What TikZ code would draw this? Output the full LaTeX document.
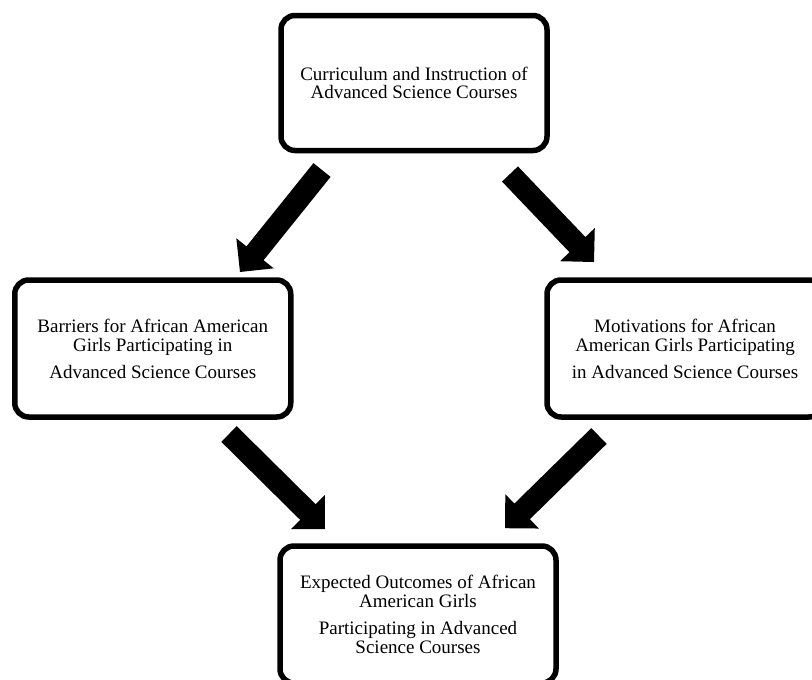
\documentclass[tikz,border=0pt]{standalone}
\usepackage{fontspec}
\setmainfont{Liberation Serif}
\usetikzlibrary{calc}
\tikzset{
  box/.style={draw=black, line width=5.5pt, rounded corners=14pt, fill=white,
    align=center, inner sep=0pt, minimum width=276pt, minimum height=137pt,
    font=\fontsize{19}{19}\selectfont},
}
\newcommand{\blockarrow}[2]{%
  \coordinate (bah) at ($(#2)!24pt!(#1)$);
  \fill[black] ($(#1)!11pt!90:(#2)$) -- ($(bah)!11pt!90:(#2)$) -- ($(bah)!24pt!90:(#2)$) -- (#2)
    -- ($(bah)!24pt!-90:(#2)$) -- ($(bah)!11pt!-90:(#2)$) -- ($(#1)!11pt!-90:(#2)$) -- cycle;}
\begin{document}
\begin{tikzpicture}[x=1pt,y=1pt]
\clip (0,0) rectangle (812,-680);
\fill[white] (0,0) rectangle (812,-680);
\node[box, minimum width=266pt, minimum height=135pt, font=\fontsize{19}{17.5}\selectfont] (top) at (414,-83)
  {Curriculum and Instruction of\\Advanced Science Courses};
\node[box] (left) at (152.75,-348.5)
  {Barriers for African American\\Girls Participating in\\[8pt]Advanced Science Courses};
\node[box] (right) at (685,-348.5)
  {Motivations for African\\American Girls Participating\\[8pt]in Advanced Science Courses};
\node[box] (bottom) at (418,-614.5)
  {Expected Outcomes of African\\American Girls\\[8pt]Participating in Advanced\\Science Courses};
\coordinate (a1t) at ($(top)+(-92,-87)$);
\coordinate (a1h) at ($(left)+(87.25,76.5)$);
\coordinate (a2t) at ($(top)+(96,-91)$);
\coordinate (a2h) at ($(right)+(-91,86.5)$);
\coordinate (a3t) at ($(left)+(76.25,-85.5)$);
\coordinate (a3h) at ($(bottom)+(-93,85.5)$);
\coordinate (a4t) at ($(right)+(-86,-87.5)$);
\coordinate (a4h) at ($(bottom)+(87,86.3)$);
\blockarrow{a1t}{a1h}
\blockarrow{a2t}{a2h}
\blockarrow{a3t}{a3h}
\blockarrow{a4t}{a4h}
\end{tikzpicture}
\end{document}
